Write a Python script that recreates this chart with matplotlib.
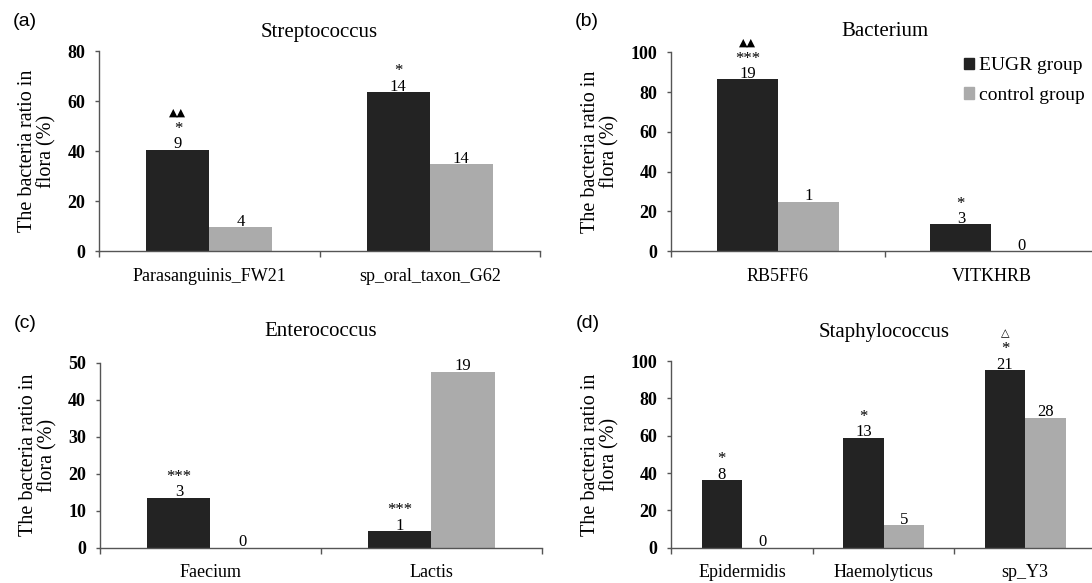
import numpy as np
import matplotlib
matplotlib.use('Agg')
import matplotlib.pyplot as plt
from matplotlib.patches import Patch

plt.rcParams['font.family'] = ['Liberation Serif', 'DejaVu Sans']

# (a) Streptococcus
cats_a = ['Parasanguinis_FW21', 'sp_oral_taxon_G62']
eugr_a = [40.6, 63.5]
ctrl_a = [9.6, 34.8]
num_eugr_a = ['9', '14']
num_ctrl_a = ['4', '14']
sig_a = ['*', '*']
tri_a = ['▲▲', '']

# (b) Bacterium
cats_b = ['RB5FF6', 'VITKHRB']
eugr_b = [86.4, 13.4]
ctrl_b = [24.8, 0]
num_eugr_b = ['19', '3']
num_ctrl_b = ['1', '0']
sig_b = ['***', '*']
tri_b = ['▲▲', '']

# (c) Enterococcus
cats_c = ['Faecium', 'Lactis']
eugr_c = [13.5, 4.5]
ctrl_c = [0, 47.6]
num_eugr_c = ['3', '1']
num_ctrl_c = ['0', '19']
sig_c = ['***', '***']
tri_c = ['', '']

# (d) Staphylococcus
cats_d = ['Epidermidis', 'Haemolyticus', 'sp_Y3']
eugr_d = [36.3, 58.9, 95.2]
ctrl_d = [0, 12.2, 69.6]
num_eugr_d = ['8', '13', '21']
num_ctrl_d = ['0', '5', '28']
sig_d = ['*', '*', '*']
tri_d = ['', '', '△']

BLACK = '#232323'
GREY = '#ababab'
AXC = '#555555'

W, H = 1092, 583
fig = plt.figure(figsize=(W / 100, H / 100), dpi=100)


def px_axes(l, t, r, b):
    return fig.add_axes([l / W, 1 - b / H, (r - l) / W, (b - t) / H])


def note(ax, xv, yv, s, dy, size, family=None):
    kw = {}
    if family:
        kw['family'] = family
    ax.annotate(s, (xv, yv), xytext=(0, dy), textcoords='offset points',
                ha='center', va='baseline', fontsize=size, linespacing=0.95,
                **kw)


def panel(ax, cats, eugr, ctrl, n_e, n_c, sig, tri, ymax, ystep, title, tdy):
    n = len(cats)
    x = np.arange(n) + 0.5
    w = 0.286
    ax.bar(x - w / 2, eugr, w, color=BLACK)
    ax.bar(x + w / 2, ctrl, w, color=GREY)
    ax.set_xlim(0, n)
    ax.set_ylim(0, ymax)
    ax.set_yticks(np.arange(0, ymax + 1, ystep))
    ax.set_xticks(np.arange(n + 1))
    ax.set_xticklabels([])
    ax.set_xticks(x, minor=True)
    ax.set_xticklabels(cats, minor=True, fontsize=13)
    ax.tick_params(axis='x', which='major', length=4, width=1, color=AXC)
    ax.tick_params(axis='x', which='minor', length=0, pad=12)
    ax.tick_params(axis='y', length=3, width=1, color=AXC, pad=7, labelsize=13)
    for lab in ax.get_yticklabels():
        lab.set_fontweight('bold')
    for s in ['top', 'right']:
        ax.spines[s].set_visible(False)
    for s in ['left', 'bottom']:
        ax.spines[s].set_color(AXC)
        ax.spines[s].set_linewidth(1)
    ax.set_ylabel('The bacteria ratio in\nflora (%)', fontsize=14.5, labelpad=8,
                  linespacing=1.0)
    ax.text(0.5, 1 + tdy, title, transform=ax.transAxes, ha='center',
            va='center', fontsize=15)
    for i in range(n):
        xe = x[i] - w / 2
        xc = x[i] + w / 2
        # significance mark and count stacked in one text
        lab = sig[i] + '\n' + n_e[i] if sig[i] else n_e[i]
        note(ax, xe, eugr[i], lab, 1, 12)
        note(ax, xc, ctrl[i], n_c[i], 1, 12)
        if tri[i]:
            note(ax, xe, eugr[i], tri[i], 24.5, 8, family='DejaVu Sans')


ax_a = px_axes(99.3, 51, 540, 251)
ax_b = px_axes(671.3, 52.3, 1098, 251)
ax_c = px_axes(99.9, 362.7, 542, 547.7)
ax_d = px_axes(671.3, 361, 1096, 547.7)

panel(ax_a, cats_a, eugr_a, ctrl_a, num_eugr_a, num_ctrl_a, sig_a, tri_a,
      80, 20, 'Streptococcus', 0.095)
panel(ax_b, cats_b, eugr_b, ctrl_b, num_eugr_b, num_ctrl_b, sig_b, tri_b,
      100, 20, 'Bacterium', 0.104)
panel(ax_c, cats_c, eugr_c, ctrl_c, num_eugr_c, num_ctrl_c, sig_c, tri_c,
      50, 10, 'Enterococcus', 0.168)
panel(ax_d, cats_d, eugr_d, ctrl_d, num_eugr_d, num_ctrl_d, sig_d, tri_d,
      100, 20, 'Staphylococcus', 0.152)

handles = [Patch(color=BLACK), Patch(color=GREY)]
ax_b.legend(handles, ['EUGR group', 'control group'], loc='upper left',
            bbox_to_anchor=(0.685, 0.975), frameon=False, fontsize=14,
            handlelength=0.55, handleheight=0.55, handletextpad=0.25,
            labelspacing=0.65, borderaxespad=0, borderpad=0)

for lab, xp, yp in [('(a)', 25, 22), ('(b)', 587, 22), ('(c)', 25, 323), ('(d)', 588, 323)]:
    fig.text(xp / W, 1 - yp / H, lab, family='Liberation Sans', fontsize=14,
             ha='center', va='center')

fig.savefig('out.png', dpi=100)
